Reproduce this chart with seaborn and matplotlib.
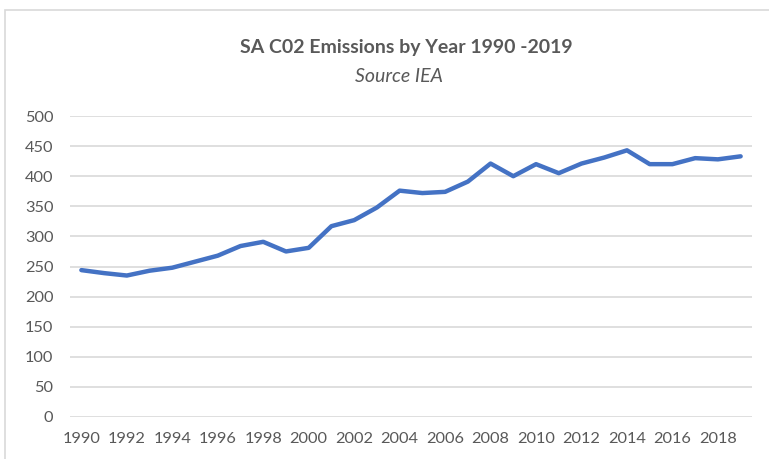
import matplotlib
matplotlib.use("Agg")
import matplotlib.pyplot as plt
import seaborn as sns
import pandas as pd
from matplotlib.patches import Rectangle

years = list(range(1990, 2020))
emissions = [244, 239, 235, 243, 248, 258, 268, 284, 291, 275,
             281, 317, 327, 348, 376, 372, 374, 391, 421, 400,
             420, 405, 421, 431, 443, 420, 420, 430, 428, 433]
year_ticks = list(range(1990, 2019, 2))
y_ticks = list(range(0, 501, 50))

df = pd.DataFrame({"year": years, "co2": emissions})

sns.set_style("white")
plt.rcParams['font.family'] = ['Lato', 'DejaVu Sans']

grey = "#595959"
fig = plt.figure(figsize=(7.69, 4.59), dpi=100)
ax = fig.add_axes([70 / 769, 1 - 417 / 459, 682 / 769, 301 / 459])

# chart border (cropped at right and bottom in the original screenshot)
fig.patches.append(Rectangle((5 / 769, -0.1), 1.2, 1 - 10 / 459 + 0.1,
                             transform=fig.transFigure, fill=False,
                             edgecolor="#d9d9d9", linewidth=1.2))

sns.lineplot(data=df, x="year", y="co2", ax=ax, color="#4472C4", linewidth=3.2)

ax.set_xlim(1989.5, 2019.5)
ax.set_ylim(0, 500)
ax.set_xticks(year_ticks)
ax.set_yticks(y_ticks)
ax.yaxis.grid(True, color="#d9d9d9", linewidth=1.2)
ax.set_axisbelow(True)
for s in ax.spines.values():
    s.set_visible(False)
ax.tick_params(axis="x", length=0, pad=11, labelsize=11.8, labelcolor=grey)
ax.tick_params(axis="y", length=0, pad=12, labelsize=11.8, labelcolor=grey)
ax.set_xlabel("")
ax.set_ylabel("")

fig.text(406 / 769, 1 - 47 / 459, "SA C02 Emissions by Year 1990 -2019",
         ha="center", va="center", fontsize=14, fontweight="bold", color=grey)
fig.text(399 / 769, 1 - 76 / 459, "Source IEA", ha="center", va="center",
         fontsize=14, style="italic", color=grey)

fig.savefig("out.png", dpi=100)
